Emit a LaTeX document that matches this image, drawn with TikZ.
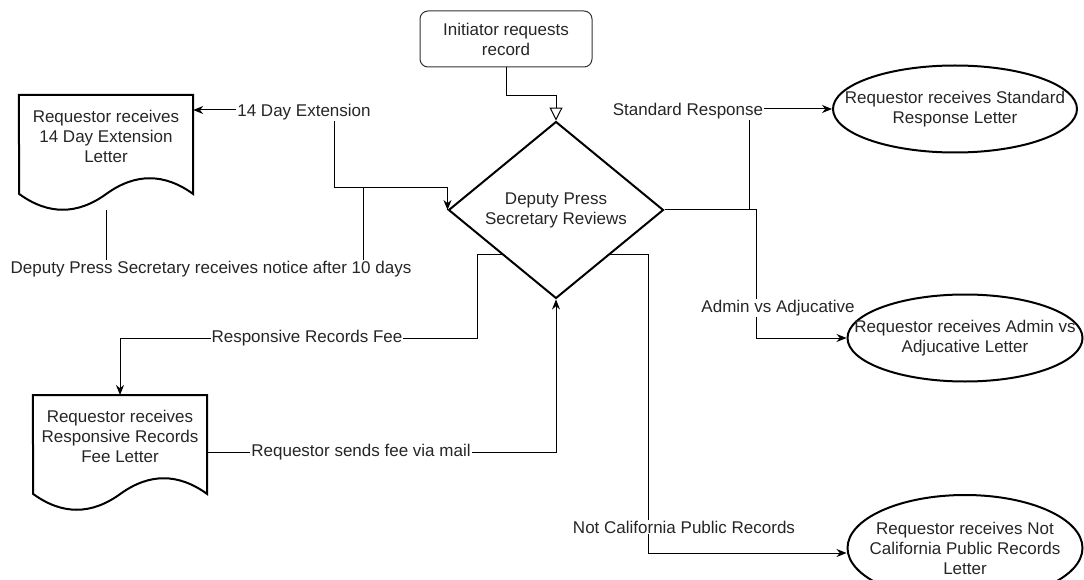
\documentclass[tikz,border=0pt]{standalone}
\usepackage{tikz}
\usepackage{fontspec}
\setmainfont{Liberation Sans}
\usetikzlibrary{
    arrows.meta,
    %backgrounds,
    calc,
    %positioning,
    shapes,
    shapes.geometric,
}

\newcommand{\docoutline}[1]{%
    \draw[docline] (#1.north west) -- (#1.north east) -- ++(0,99)
        .. controls +(-29,-21) and +(29,-21) .. ++(-87,0)
        .. controls +(-29,21) and +(29,21) .. ++(-87,0) -- cycle;%
}

\begin{document}
\begin{tikzpicture}[
        x=1pt, y=-1pt,
        font=\fontsize{17}{20}\selectfont,
        text=black!85,
        >={Stealth[length=10pt, width=8pt]},
        startbox/.style={rectangle, rounded corners=8pt, draw=black!80, line width=1pt, minimum width=172pt, minimum height=56pt, align=center},
        decision/.style={diamond, draw=black, line width=2pt, minimum width=215pt, minimum height=171pt, inner sep=0pt, align=center},
        letter/.style={ellipse, draw=black, line width=2pt, minimum width=235pt, minimum height=87pt, inner sep=-30pt, align=center},
        docbox/.style={rectangle, minimum width=174pt, minimum height=82pt, anchor=north, align=center},
        docline/.style={draw=black, line width=2pt},
        link/.style={->, draw=black, line width=1pt},
        edgelabel/.style={fill=white, inner sep=1pt}
        ]
        \useasboundingbox (0,0) rectangle (1084,580);
        \clip (0,0) rectangle (1084,580);
        \node[startbox] (INIT) at (506,39)  {Initiator requests\\record};
        \node[decision] (DPS)  at (556,210) {Deputy Press\\Secretary Reviews};
        \node[docbox]   (EXT)  at (106,95)  {Requestor receives\\14 Day Extension\\Letter};
        \node[docbox]   (FEE)  at (120,395) {Requestor receives\\Responsive Records\\Fee Letter};
        \node[letter, minimum width=244pt] (STD) at (955,109) {Requestor receives Standard\\Response Letter};
        \node[letter]   (ADM)  at (965,338) {Requestor receives Admin vs\\Adjucative Letter};
        \node[letter, minimum height=106pt] (NCPR) at (965,548) {Requestor receives Not\\California Public Records\\Letter};
        \docoutline{EXT}
        \docoutline{FEE}
        \coordinate (C1) at (334,188);
        \coordinate (C2) at (334,110);
        \coordinate (C3) at (363,269);
        \coordinate (C4) at (363,188);
        \coordinate (C5) at (477,338);
        \coordinate (C6) at (648,553);
        \draw[link, -{Triangle[open, length=13pt, width=13pt]}] (INIT.south) -- ++(0,28) -| (DPS.north);
        \draw[link] (DPS.east) -- ++(85,0) |- (STD.west);
        \draw[link] (DPS.east) -- ++(92,0) |- (ADM.west);
        \draw[link] (DPS.south east) -| (C6) -- (C6 -| NCPR.west);
        \draw[link] (DPS.south west) -| (C5) -| (FEE.north);
        \draw[link] ($(FEE.east)+(0,16)$) -| (DPS.south);
        \draw[link] (DPS.west) |- (C1) -- (C2) -- (C2 -| EXT.east);
        \draw[link] ($(EXT.south)+(0,33)$) |- (C3) -- (C4) -| (DPS.west);
        \node[edgelabel] (L1) at (304,112) {14 Day Extension};
        \node[edgelabel] (L2) at (211,269) {Deputy Press Secretary receives notice after 10 days};
        \node[edgelabel] (L3) at (688,111) {Standard Response};
        \node[edgelabel] (L4) at (778,308) {Admin vs Adjucative};
        \node[edgelabel] (L5) at (307,338) {Responsive Records Fee};
        \node[edgelabel] (L6) at (361,452) {Requestor sends fee via mail};
        \node[edgelabel] (L7) at (684,527) {Not California Public Records};
    \end{tikzpicture}
\end{document}
